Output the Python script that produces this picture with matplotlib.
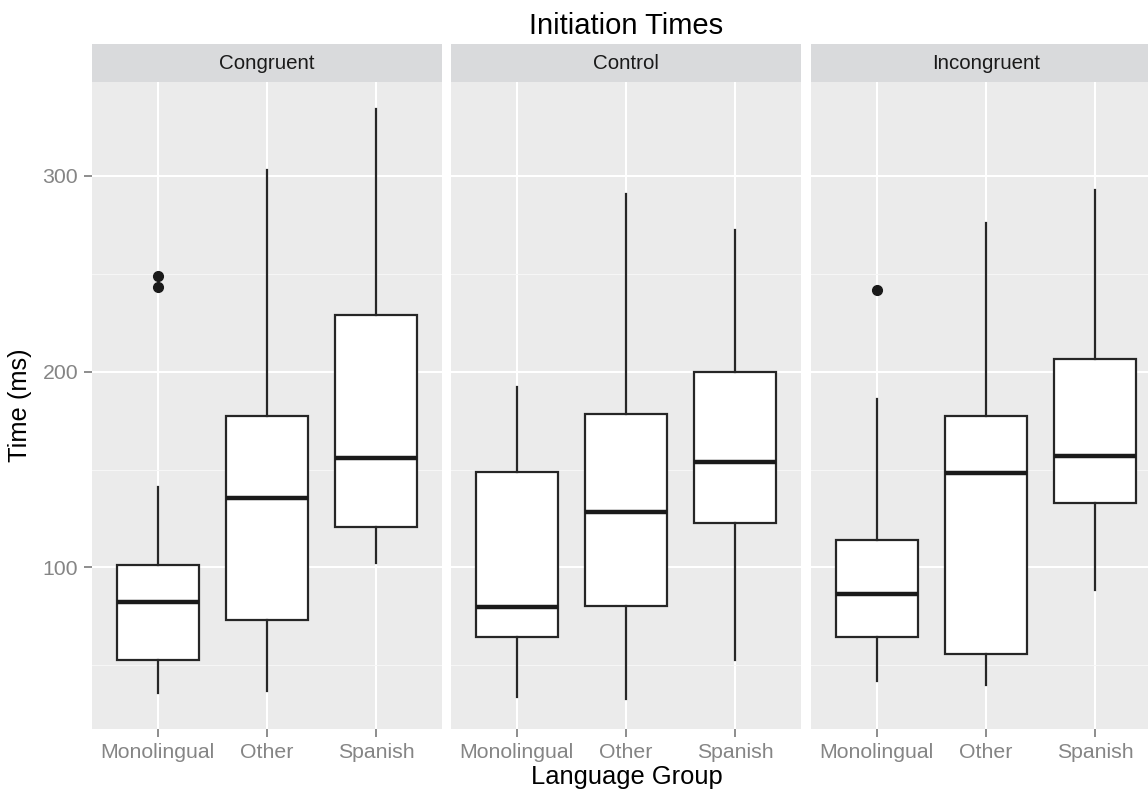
import matplotlib
matplotlib.use('Agg')
from matplotlib import pyplot as plt

plt.rcParams['font.family'] = ['Liberation Sans', 'DejaVu Sans']

# Conditions (facets) and language groups
conditions = ['Congruent', 'Control', 'Incongruent']
groups = ['Monolingual', 'Other', 'Spanish']

# Box stats, one list per condition, in group order
whislo = {'Congruent': [36, 37, 102.5],
          'Control': [34, 33, 52.7],
          'Incongruent': [42, 40, 88.5]}
q1 = {'Congruent': [53, 73, 120.5],
      'Control': [64.4, 80.4, 122.5],
      'Incongruent': [64.4, 55.6, 132.8]}
med = {'Congruent': [82.4, 135.4, 156],
       'Control': [80, 128.3, 154],
       'Incongruent': [86.5, 148.5, 157]}
q3 = {'Congruent': [101.2, 177.4, 229.2],
      'Control': [148.9, 178.4, 200.1],
      'Incongruent': [114.3, 177.3, 206.4]}
whishi = {'Congruent': [141.3, 303, 334],
          'Control': [192, 290.8, 272.2],
          'Incongruent': [186.2, 276, 292.6]}
outliers = {'Congruent': [[249, 243.3], [], []],
            'Control': [[], [], []],
            'Incongruent': [[242], [], []]}

W, H = 1148, 791
fig = plt.figure(figsize=(W / 100, H / 100), dpi=100)

# panel geometry in pixels (last panel runs past the right edge, as in the original)
panel_x = [92, 451, 811]
panel_w = 350
panel_top, panel_bot = 82, 729
strip_top = 44

bg = '#EBEBEB'
strip_bg = '#D9DADC'
tick_col = '#858585'

for i, cond in enumerate(conditions):
    ax = fig.add_axes([panel_x[i] / W, 1 - panel_bot / H,
                       panel_w / W, (panel_bot - panel_top) / H])
    ax.set_facecolor(bg)
    for s in ax.spines.values():
        s.set_visible(False)

    stats = []
    for j, g in enumerate(groups):
        stats.append(dict(label=g, whislo=whislo[cond][j], q1=q1[cond][j],
                          med=med[cond][j], q3=q3[cond][j],
                          whishi=whishi[cond][j], fliers=outliers[cond][j]))
    ax.bxp(stats, positions=[1, 2, 3], widths=0.75, patch_artist=True,
           showcaps=False, zorder=3,
           boxprops=dict(facecolor='white', edgecolor='#262626', linewidth=1.6),
           medianprops=dict(color='#1a1a1a', linewidth=3.2),
           whiskerprops=dict(color='#262626', linewidth=1.6),
           flierprops=dict(marker='o', markerfacecolor='#1a1a1a',
                           markeredgecolor='#1a1a1a', markersize=7))

    ax.set_xlim(0.4, 3.6)
    ax.set_ylim(17.5, 348)
    ax.set_xticks([1, 2, 3])
    ax.set_xticklabels(groups)
    ax.set_yticks([100, 200, 300])
    ax.set_yticks([50, 150, 250], minor=True)
    ax.grid(True, which='major', color='white', linewidth=1.5, zorder=0)
    ax.grid(True, which='minor', axis='y', color='#F7F7F7', linewidth=0.7, zorder=0)
    ax.set_axisbelow(True)
    ax.tick_params(axis='both', which='major', length=6, width=1.3,
                   color=tick_col, labelcolor=tick_col, labelsize=15.3, pad=4)
    ax.tick_params(axis='y', which='minor', length=0)
    if i > 0:
        ax.tick_params(axis='y', which='major', length=0, labelleft=False)

    # facet strip
    sx = fig.add_axes([panel_x[i] / W, 1 - panel_top / H,
                       panel_w / W, (panel_top - strip_top) / H])
    sx.set_facecolor(strip_bg)
    sx.set_xticks([])
    sx.set_yticks([])
    for s in sx.spines.values():
        s.set_visible(False)
    sx.text(0.5, 0.48, cond, ha='center', va='center', fontsize=14.8,
            color='#1a1a1a', transform=sx.transAxes)

center = (panel_x[0] + panel_x[2] + panel_w) / 2 / W
fig.text(center, 1 - 26 / H, 'Initiation Times', ha='center', va='center',
         fontsize=21, color='black')
fig.text(center, 1 - 777 / H, 'Language Group', ha='center', va='center',
         fontsize=18.4, color='black')
fig.text(20 / W, 1 - 405 / H, 'Time (ms)', ha='center', va='center',
         rotation=90, fontsize=18.4, color='black')

plt.savefig('out.png', dpi=100)
